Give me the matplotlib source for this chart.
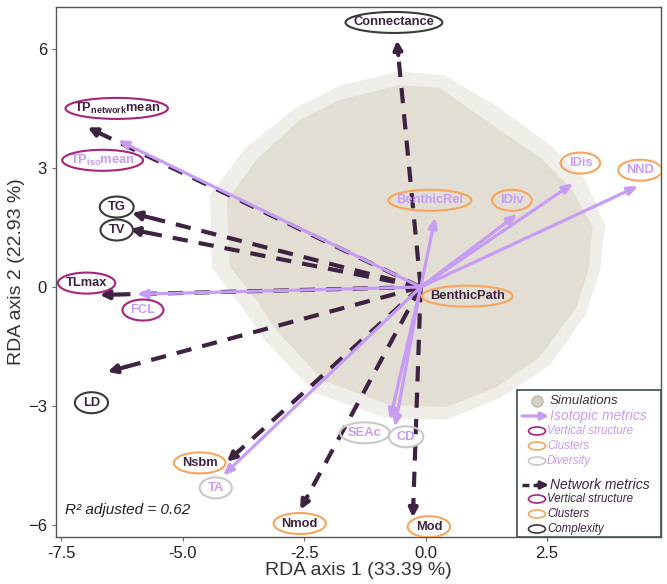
import matplotlib
matplotlib.use("Agg")
import matplotlib.pyplot as plt
from matplotlib.patches import Polygon, Rectangle, Ellipse

plt.rcParams['font.family'] = ['Liberation Sans', 'DejaVu Sans']
plt.rcParams['mathtext.fontset'] = 'custom'
plt.rcParams['mathtext.rm'] = 'Liberation Sans'
plt.rcParams['mathtext.bf'] = 'Liberation Sans:bold'
plt.rcParams['mathtext.it'] = 'Liberation Sans:italic'
plt.rcParams['lines.scale_dashes'] = False

# ---------------- data ----------------
iso_names = ['TPisomean', 'FCL', 'BenthicRel', 'IDiv', 'IDis', 'NND', 'SEAc', 'CD', 'TA']
iso_x = [-6.34, -5.95, 0.20, 1.89, 3.04, 4.38, -0.73, -0.63, -4.17]
iso_y = [3.71, -0.18, 1.76, 1.84, 2.62, 2.55, -3.35, -3.53, -4.76]

net_names = ['Connectance', 'TPnetworkmean', 'TG', 'TV', 'TLmax', 'LD', 'Nsbm', 'Nmod', 'Mod']
net_x = [-0.59, -6.96, -6.05, -6.09, -6.71, -6.55, -4.09, -2.58, -0.26]
net_y = [6.23, 4.03, 1.87, 1.46, -0.20, -2.14, -4.41, -5.62, -5.82]

# label positions, text and category
lab_names = ['Connectance', 'TPnetworkmean', 'TPisomean', 'TG', 'TV', 'TLmax', 'FCL', 'LD',
             'BenthicRel', 'IDiv', 'IDis', 'NND', 'BenthicPath', 'SEAc', 'CD', 'Nsbm', 'TA',
             'Nmod', 'Mod']
lab_x = [-0.65, -6.36, -6.65, -6.36, -6.36, -6.98, -5.82, -6.88,
         0.09, 1.78, 3.19, 4.42, 0.86, -1.25, -0.40, -4.65, -4.32, -2.59, 0.07]
lab_y = [6.68, 4.51, 3.20, 2.02, 1.44, 0.10, -0.58, -2.92,
         2.19, 2.19, 3.13, 2.95, -0.23, -3.68, -3.78, -4.44, -5.07, -5.97, -6.05]
lab_group = ['net', 'net', 'iso', 'net', 'net', 'net', 'iso', 'net',
             'iso', 'iso', 'iso', 'iso', 'net', 'iso', 'iso', 'net', 'iso', 'net', 'net']
lab_type = ['complexity', 'vertical', 'vertical', 'complexity', 'complexity', 'vertical',
            'vertical', 'complexity', 'clusters', 'clusters', 'clusters', 'clusters',
            'clusters', 'diversity', 'diversity', 'clusters', 'diversity', 'clusters', 'clusters']

# simulations cloud outline (dense core and sparse fringe)
cloud_x = [-0.53, 0.29, 1.32, 2.35, 3.02, 3.44, 3.37, 3.11, 2.35, 1.46, 0.43, -0.74,
           -2.12, -3.07, -3.48, -4.03, -4.09, -3.48, -2.59, -1.77]
cloud_y = [5.10, 5.03, 4.14, 3.28, 2.45, 1.52, 0.51, -0.51, -1.77, -2.53, -3.03, -2.98,
           -2.35, -1.09, -0.33, 0.51, 2.20, 3.21, 4.22, 4.72]
fringe_x = [-0.53, 0.40, 1.54, 2.57, 3.29, 3.70, 3.60, 3.29, 2.57, 1.54, 0.44, -0.84,
            -2.28, -3.31, -3.82, -4.40, -4.44, -3.72, -2.69, -1.76]
fringe_y = [5.45, 5.34, 4.51, 3.58, 2.70, 1.56, 0.43, -0.71, -1.97, -2.80, -3.35, -3.30,
            -2.67, -1.34, -0.45, 0.48, 2.32, 3.50, 4.51, 5.09]

r2_text = 'R² adjusted = 0.62'

# ---------------- style ----------------
ISO = '#C79CF4'
NET = '#3D2341'
CLOUD = '#E2DED3'
EC = {'vertical': '#A8237C', 'clusters': '#F7A55C', 'diversity': '#C8C8C8', 'complexity': '#3A3A3A'}
origin = (-0.1, 0.0)

fig = plt.figure(figsize=(6.67, 5.84), dpi=100)
ax = fig.add_axes([0.084, 0.0805, 0.907, 0.9075])
ax.set_xlim(-7.61, 4.85)
ax.set_ylim(-6.31, 7.07)

ax.add_patch(Polygon(list(zip(fringe_x, fringe_y)), closed=True, fc=CLOUD, ec='none', alpha=0.5, zorder=1))
ax.add_patch(Polygon(list(zip(cloud_x, cloud_y)), closed=True, fc=CLOUD, ec='none', zorder=1.1))

# network arrows: dashed shaft + solid head
for x, y in zip(net_x, net_y):
    fx = origin[0] + (x - origin[0]) * 0.94
    fy = origin[1] + (y - origin[1]) * 0.94
    ax.plot([origin[0], fx], [origin[1], fy], color=NET, lw=3.0, dashes=(11, 8),
            solid_capstyle='butt', dash_capstyle='butt', zorder=2)
    ax.annotate('', xy=(x, y), xytext=(fx, fy),
                arrowprops=dict(arrowstyle='-|>,head_length=0.5,head_width=0.25',
                                color=NET, lw=3.0, shrinkA=0, shrinkB=0), zorder=2)

# isotopic arrows
for x, y in zip(iso_x, iso_y):
    ax.annotate('', xy=(x, y), xytext=origin,
                arrowprops=dict(arrowstyle='-|>,head_length=0.6,head_width=0.25',
                                color=ISO, lw=2.3, shrinkA=0, shrinkB=0), zorder=3)

def label_text(n):
    if n == 'TPnetworkmean':
        return r'$\mathbf{TP_{network}mean}$'
    if n == 'TPisomean':
        return r'$\mathbf{TP_{iso}mean}$'
    return n

texts = []
for n, x, y, g, t in zip(lab_names, lab_x, lab_y, lab_group, lab_type):
    col = ISO if g == 'iso' else NET
    tx = ax.text(x, y, label_text(n), color=col, fontsize=9.3, fontweight='bold',
                 ha='center', va='center', zorder=5)
    texts.append((tx, x, y, t))

fig.canvas.draw()
renderer = fig.canvas.get_renderer()
inv = ax.transData.inverted()
for tx, x, y, t in texts:
    bb = tx.get_window_extent(renderer)
    wpx = bb.width + 16
    hpx = 21
    cxp, cyp = ax.transData.transform((x, y))
    (x1, y1) = inv.transform((cxp - wpx / 2, cyp - hpx / 2))
    (x2, y2) = inv.transform((cxp + wpx / 2, cyp + hpx / 2))
    ax.add_patch(Ellipse((x, y), x2 - x1, y2 - y1, fc='none', ec=EC[t], lw=1.5, zorder=5))

ax.text(0.015, 0.038, r2_text, transform=ax.transAxes, fontsize=11, style='italic',
        color='#222222', ha='left', va='bottom', zorder=6)

ax.set_xticks([-7.5, -5.0, -2.5, 0.0, 2.5])
ax.set_xticklabels(['-7.5', '-5.0', '-2.5', '0.0', '2.5'])
ax.set_yticks([-6, -3, 0, 3, 6])
ax.tick_params(labelsize=12, colors='#222222', length=3, width=0.8)
ax.tick_params(color='#666666')
for s in ax.spines.values():
    s.set_color('#555555')
    s.set_linewidth(1.0)
ax.set_xlabel('RDA axis 1 (33.39 %)', fontsize=14, color='#333333', labelpad=1)
ax.set_ylabel('RDA axis 2 (22.93 %)', fontsize=14, color='#333333', labelpad=2)

# ---------------- legend (manual) ----------------
def P(px, py):
    return ((px - 56) / 605.0, (537 - py) / 530.0)

tr = ax.transAxes
x0, y0 = P(517, 390)
ax.add_patch(Rectangle((x0, 0), 1 - x0, y0, transform=tr, fc='white', ec='#3A4A50', lw=1.2, zorder=7))

ax.plot(*P(537, 401), marker='o', ms=8, color='#D3CFC1', mec='#BDB8A8', transform=tr, zorder=8)
ax.text(*P(550, 401), 'Simulations', transform=tr, fontsize=9.5, style='italic', color='#333333',
        va='center', ha='left', zorder=8)

ax.annotate('', xy=P(549, 416), xytext=P(522, 416), xycoords=tr, textcoords=tr,
            arrowprops=dict(arrowstyle='-|>,head_length=0.45,head_width=0.22', color=ISO, lw=2.3,
                            shrinkA=0, shrinkB=0), zorder=8)
ax.text(*P(550, 416), 'Isotopic metrics', transform=tr, fontsize=10, style='italic', color=ISO,
        va='center', ha='left', zorder=8)

sub_iso = [('Vertical structure', 'vertical', 431), ('Clusters', 'clusters', 446), ('Diversity', 'diversity', 461)]
sub_net = [('Vertical structure', 'vertical', 499), ('Clusters', 'clusters', 514), ('Complexity', 'complexity', 529)]

for lst, tc in ((sub_iso, ISO), (sub_net, NET)):
    for txt, t, py in lst:
        cx, cy = P(537, py)
        ax.add_patch(Ellipse((cx, cy), 17 / 605.0, 8 / 530.0, transform=tr, fc='none',
                             ec=EC[t], lw=1.2, zorder=8))
        ax.text(*P(547, py), txt, transform=tr, fontsize=8.3, style='italic', color=tc,
                va='center', ha='left', zorder=8)

xa, ya = P(522, 485)
xb, yb = P(538, 485)
ax.plot([xa, xb], [ya, yb], transform=tr, color=NET, lw=2.5, dashes=(5, 3), zorder=8)
ax.annotate('', xy=P(549, 485), xytext=P(537, 485), xycoords=tr, textcoords=tr,
            arrowprops=dict(arrowstyle='-|>,head_length=0.45,head_width=0.22', color=NET, lw=2.3,
                            shrinkA=0, shrinkB=0), zorder=8)
ax.text(*P(550, 485), 'Network metrics', transform=tr, fontsize=10, style='italic', color=NET,
        va='center', ha='left', zorder=8)

fig.savefig('out.png', dpi=100)
